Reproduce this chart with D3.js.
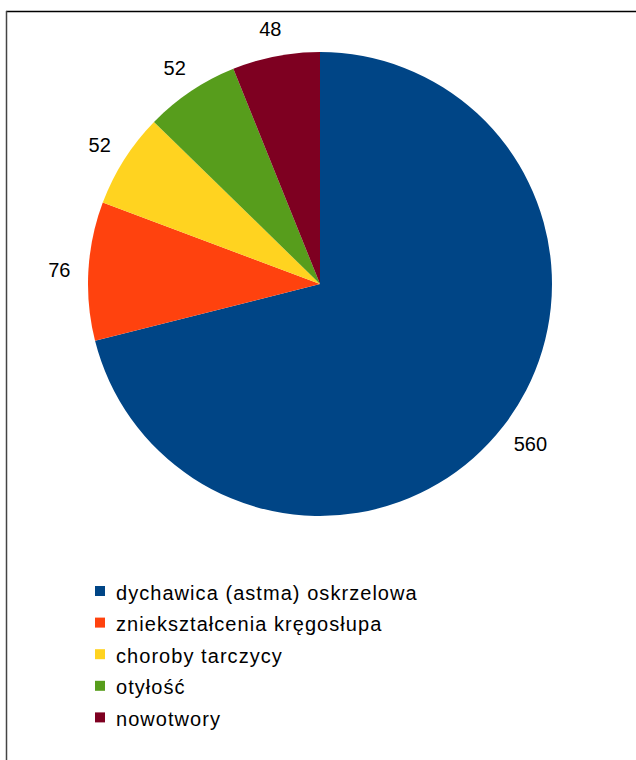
<!DOCTYPE html>
<html><head><meta charset="utf-8">
<script src="https://cdn.jsdelivr.net/npm/d3@7"></script>
<style>body{margin:0;background:#fff}svg{display:block}</style>
</head><body>
<script>
const categories = ["dychawica (astma) oskrzelowa","zniekształcenia kręgosłupa","choroby tarczycy","otyłość","nowotwory"];
const values = [560, 76, 52, 52, 48];
const colors = ["#004586","#ff420e","#ffd320","#579d1c","#7e0021"];

const W = 636, H = 760;
const svg = d3.select("body").append("svg").attr("width", W).attr("height", H);
svg.append("rect").attr("width", W).attr("height", H).attr("fill", "#fff");
// frame
svg.append("line").attr("x1", 6).attr("x2", W).attr("y1", 11.5).attr("y2", 11.5).attr("stroke", "#000").attr("stroke-width", 1.5);
svg.append("line").attr("x1", 6.5).attr("x2", 6.5).attr("y1", 11).attr("y2", H).attr("stroke", "#444").attr("stroke-width", 1.5);

const cx = 320, cy = 284, r = 232;
const data = categories.map((c, i) => ({cat: c, value: values[i], color: colors[i]}));
const pie = d3.pie().value(d => d.value).sort(null);
const arcs = pie(data);
const arc = d3.arc().innerRadius(0).outerRadius(r);
const g = svg.append("g").attr("transform", `translate(${cx},${cy})`);
g.selectAll("path").data(arcs).join("path").attr("d", arc).attr("fill", d => d.data.color);

const R = 250, th = 20;
g.selectAll("text.lbl").data(arcs).join("text").attr("class", "lbl")
  .each(function(d) {
    const a = (d.startAngle + d.endAngle) / 2;
    const dx = Math.sin(a), dy = -Math.cos(a);
    const txt = String(d.data.value);
    const w = txt.length * 11.1;
    const x = R * dx + dx * w / 2, y = R * dy + dy * th / 2;
    d3.select(this).attr("x", x).attr("y", y).attr("dy", "0.35em").text(txt);
  })
  .attr("text-anchor", "middle")
  .attr("font-family", "Liberation Sans, Arial, sans-serif").attr("font-size", 20).attr("fill", "#000");

const leg = svg.append("g");
const rows = leg.selectAll("g").data(data).join("g")
  .attr("transform", (d, i) => `translate(95, ${586 + i * 31.6})`);
rows.append("rect").attr("width", 10).attr("height", 10).attr("fill", d => d.color);
rows.append("text").attr("x", 21).attr("y", 13.5).text(d => d.cat)
  .attr("letter-spacing", "1.05px")
  .attr("font-family", "Liberation Sans, Arial, sans-serif").attr("font-size", 20).attr("fill", "#000");
</script>
</body></html>
